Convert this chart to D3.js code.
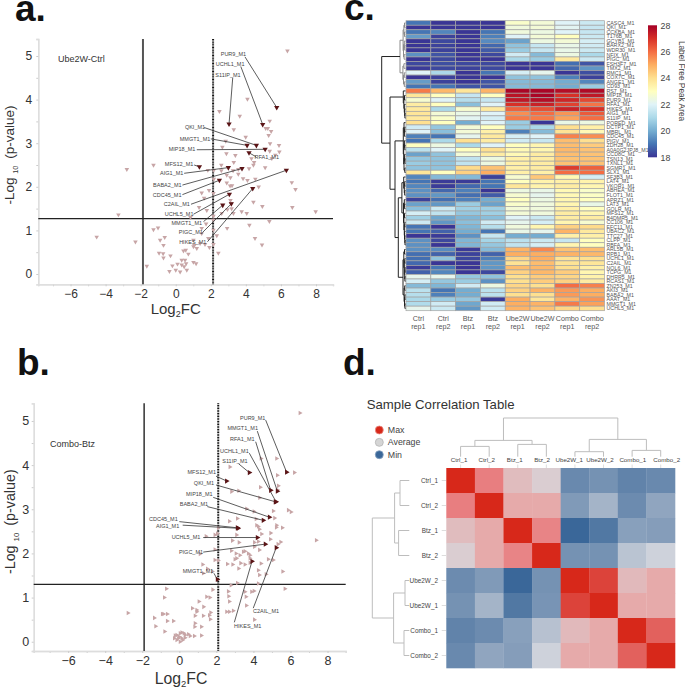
<!DOCTYPE html>
<html>
<head>
<meta charset="utf-8">
<script src="https://cdn.jsdelivr.net/npm/d3@7"></script>
<style>
    html, body { margin: 0; padding: 0; background: #fff; }
    svg { display: block; font-family: "Liberation Sans", Arial, sans-serif; }
</style>
</head>
<body>
<svg width="685" height="689"></svg>
<script>

// volcano a: Ube2W-Ctrl, [log2fc, -log10 p]
const a_points = [
    [6.37,5.12],[4.09,4.01],[2.49,3.73],[3.65,3.62],[5.36,3.51],[3.31,3.31],[5.13,3.34],[5.25,3.34],[5.44,3.27],[5.30,3.18],
    [3.99,3.14],[2.85,3.05],[5.38,2.99],[5.89,2.95],[2.66,2.91],[5.91,2.80],[5.36,2.82],[2.89,2.76],[3.40,2.72],[4.32,2.65],
    [5.68,2.73],[5.48,2.65],[4.47,2.56],[3.31,2.56],[4.43,2.50],[2.60,2.50],[-2.79,2.40],[-1.27,2.50],[2.60,2.37],[4.18,2.42],
    [5.10,2.44],[3.57,2.40],[3.27,2.37],[2.91,2.27],[3.57,2.29],[2.17,2.38],[1.83,2.38],[3.12,2.21],[2.17,2.18],[3.84,2.19],
    [4.09,2.15],[4.54,2.18],[2.91,2.09],[3.10,2.02],[1.48,1.86],[3.21,2.03],[1.62,1.74],[6.62,2.10],[6.83,1.94],[4.73,2.00],
    [2.15,1.85],[1.90,1.92],[3.12,1.69],[4.43,1.65],[4.94,1.55],[6.65,1.53],[7.98,1.43],[-3.27,1.36],[1.33,1.53],[1.77,1.46],
    [3.16,1.62],[3.19,1.50],[3.76,1.43],[4.05,1.39],[3.29,1.39],[2.95,1.48],[2.62,1.39],[2.15,1.33],[5.34,1.21],[4.20,1.12],
    [0.84,1.30],[-1.27,1.02],[-1.01,1.06],[2.93,1.05],[2.15,1.24],[1.48,1.05],[1.73,1.15],[2.34,0.88],[4.52,0.82],[4.92,0.67],
    [-4.51,0.85],[-2.30,0.74],[-0.63,0.84],[-0.89,0.78],[-0.70,0.66],[-0.95,0.48],[-0.72,0.47],[-0.70,0.37],[-0.30,0.42],[2.43,0.48],
    [2.15,0.68],[1.67,0.68],[1.01,0.78],[1.39,0.70],[1.01,0.63],[0.44,0.53],[0.57,0.55],[0.72,0.46],[1.92,0.61],[0.34,0.32],
    [0.53,0.32],[-0.19,0.19],[0.10,0.23],[0.34,0.21],[0.59,0.24],[1.01,0.27],[1.16,0.24],[-1.65,0.18],[-0.36,0.06],[0,0.09],
    [0.25,0.05],[0.63,0.09],[0.48,0.17],[1.06,0.66],[1.20,0.59],[1.48,0.93],[1.86,0.82],[2.15,1.01]
];

// labelled proteins: name, x, y, label x, label y, leader start x, leader start y
const a_hits = [
    ["PUR9_M1",5.76,3.82,3.29,5.04,3.95,4.98],
    ["UCHL1_M1",4.96,3.43,3.10,4.82,3.71,4.76],
    ["S11IP_M1",3.04,3.44,2.98,4.57,3.25,4.50],
    ["QKI_M1",4.60,2.95,1.10,3.37,1.62,3.36],
    ["MMGT1_M1",4.07,2.95,1.10,3.10,2.00,3.10],
    ["MIP18_M1",5.10,2.86,0.36,2.86,1.20,2.85],
    ["RFA1_M1",4.18,2.78,5.19,2.68,4.58,2.69],
    ["MFS12_M1",1.35,2.46,0.19,2.51,1.05,2.50],
    ["AIG1_M1",3.00,2.44,-0.23,2.31,0.48,2.31],
    ["BABA2_M1",3.78,2.42,-0.48,2.04,0.38,2.04],
    ["CDC45_M1",2.49,2.15,-0.49,1.82,0.38,1.82],
    ["C2AIL_M1",6.31,2.38,0.06,1.60,0.87,1.60],
    ["UCHL5_M1",3.06,1.83,0.19,1.37,1.01,1.37],
    ["MMGT1_M1",2.68,1.58,0.63,1.17,1.58,1.20],
    ["PIGC_M1",3.17,1.61,0.86,0.96,1.52,0.95],
    ["HIKES_M1",4.39,1.96,0.97,0.73,1.81,0.74]
];

// volcano b: Combo-Btz
const b_points = [
    [6.51,5.18],[5.25,4.15],[6.21,3.83],[4.41,4.15],[2.73,3.96],[5.29,3.77],[3.20,3.42],[2.82,3.40],[4.37,3.50],[5.34,3.53],
    [5.29,3.44],[4.33,3.26],[3.63,3.01],[4.03,2.95],[5.07,2.96],[5.88,2.98],[6.03,2.94],[5.14,2.80],[4.14,2.78],[3.13,2.79],
    [2.70,2.73],[4.17,2.64],[4.26,2.61],[5.25,2.64],[5.23,2.59],[5.56,2.58],[4.32,2.55],[2.10,2.58],[3.09,2.42],[4.93,2.46],
    [4.91,2.32],[4.44,2.44],[5.47,2.26],[5.32,2.21],[7.39,2.30],[2.05,2.45],[1.44,2.39],[1.92,2.42],[4.26,2.27],[4.05,2.25],
    [4.05,2.15],[2.86,2.29],[3.22,2.25],[1.92,2.09],[4.32,2.08],[1.12,1.99],[2.81,2.06],[3.06,2.00],[3.27,1.96],[3.45,2.04],
    [3.54,2.05],[3.72,2.00],[3.81,1.96],[3.09,1.89],[3.81,1.89],[1.26,1.75],[1.92,1.85],[2.10,1.84],[2.59,1.76],[3.00,1.87],
    [2.88,1.75],[3.20,1.66],[3.31,1.78],[3.54,1.75],[3.81,1.79],[4.41,1.77],[5.07,1.85],[4.80,1.87],[5.58,1.59],[4.26,1.62],
    [4.32,1.51],[4.68,1.53],[1.29,1.55],[1.51,1.65],[1.78,1.59],[2.79,1.28],[3.13,1.33],[4.26,1.32],[1.80,1.18],[-0.70,1.20],
    [-0.81,1.00],[2.64,1.14],[2.66,1.03],[2.70,0.91],[3.54,1.13],[3.90,1.13],[4.03,1.15],[3.60,1.02],[5.70,1.20],[1.47,1.02],
    [1.65,1.00],[1.06,0.91],[1.31,0.79],[0.70,0.76],[0.94,0.68],[0.94,0.72],[1.69,0.66],[1.62,0.60],[1.67,0.51],[0.85,0.59],
    [0.85,0.42],[0.83,0.34],[1.19,0.34],[1.29,0.59],[3.62,0.82],[2.55,0.68],[2.70,0.68],[2.91,0.70],[-2.77,0.65],[-1.35,0.54],
    [-0.92,0.63],[-0.85,0.63],[-0.65,0.63],[-0.65,0.47],[-0.32,0.47],[-1.28,0.35],[-0.79,0.23],[1.19,0.14],[0.81,0.13],[4.05,0.50],
    [0.25,0.19],[0.31,0.15],[0.49,0.17],[0.58,0.13],[0.04,0.19],[-0.14,0.15],[-0.27,0.08],[-0.05,0.08],[0.13,0.08],[0.31,0.09],
    [-0.14,0.04],[0.04,0],[0.18,0.04],[-0.23,0.14],[0.13,0.21],[0,0.11]
];

const b_hits = [
    ["PUR9_M1",5.79,3.84,3.96,5.07,4.66,5.02],
    ["MMGT1_M1",5.29,3.41,3.42,4.83,4.21,4.77],
    ["RFA1_M1",4.93,3.43,3.40,4.58,4.12,4.53],
    ["UCHL1_M1",5.22,3.17,2.97,4.31,3.78,4.27],
    ["S11IP_M1",3.78,3.83,3.00,4.09,3.20,4.03],
    ["MFS12_M1",2.55,3.64,1.21,3.85,1.98,3.75],
    ["QKI_M1",5.18,3.17,1.33,3.60,1.98,3.55],
    ["MIP18_M1",4.86,2.82,1.08,3.35,1.83,3.27],
    ["BABA2_M1",4.53,2.75,0.79,3.12,1.51,3.06],
    ["CDC45_M1",3.13,2.58,-0.86,2.78,0,2.72],
    ["AIG1_M1",3.17,2.57,-0.63,2.62,0.18,2.64],
    ["UCHL5_M1",4.21,2.36,0.36,2.36,1.29,2.36],
    ["PIGC_M1",4.64,2.21,0.63,2.03,1.29,2.03],
    ["C2AIL_M1",5.23,2.13,4.68,0.70,3.99,0.76],
    ["HIKES_M1",3.92,1.82,3.69,0.35,2.97,0.44],
    ["MMGT1_M1",2.05,1.41,1.01,1.59,1.87,1.55]
];

const x_major = [-6, -4, -2, 0, 2, 4, 6, 8];
const x_minor = [-7, -5, -3, -1, 1, 3, 5, 7];
const y_major = [0, 1, 2, 3, 4, 5];
const y_minor = [0.5, 1.5, 2.5, 3.5, 4.5];

// heatmap c
const heat_cols = [["Ctrl","rep1"],["Ctrl","rep2"],["Btz","rep1"],["Btz","rep2"],["Ube2W","rep1"],["Ube2W","rep2"],["Combo","rep1"],["Combo","rep2"]];

const heat_rows = [
    "CASC4_M1","QKI_M1","CCKBA_M1","T176B_M1","GCYB1_M1","BARX2_M1","WDR30_M1","NFIX_M1","PIGC_M1","FSH3F7_M1","TMX2_M1","RMC1_M1","COX7C_M1","ANGE1_M1","CD93_M1","RS7_M1",
    "MIP18_M1","PUR9_M1","RFA1_M1","HIKES_M1","AIG1_M1","S11IP_M1","PORED_M1","DCTP1_M1","MBRL_M1","CDC45_M1","PIGV_M1","ZDH28_M1","A0A0G2JPJ8_M1","CCD8C_M1","TSN13_M1","TXNL1_M1",
    "SGMR1_M1","SLX1_M1","SF3B3_M1","LAT4_M1","VKOR1_M1","ABHEA_M1","FLOT1_M1","APRZ1_M1","LAT3_M1","GOLR_M1","MFS12_M1","B4DMR5_M1","CC106_M1","EFC11_M1","UBAC2_M1","TTC27_M1",
    "CLPP_M1","RBFA_M1","ARL5B_M1","RPB1_M1","UCHL1_M1","C2AIL_M1","NOL6_M1","TCPG_M1","DHRR5_M1","RCAS1_M1","ZN253_M1","AKI3_M1","BABA2_M1","AAAT_M1","MMGT1_M1","UCHL5_M1"
];

const heat_values = [
    [19,18,18,18,22.8,22.6,22,21.6],
    [18,18,18,18,22.5,22.6,22.1,21.5],
    [19,19.3,18,19,22.5,22.4,22,21.5],
    [19.7,18.2,18,19.2,22,22.6,23,21.6],
    [18,18.3,18,19.4,19.8,22.4,22.6,21.8],
    [18,18.2,18,18.8,20.5,21.5,22.3,21.7],
    [18,18.2,18,18.6,20.7,21.5,22.3,21.6],
    [19.5,18.5,18,18.3,21.7,20.3,22.4,21],
    [18,18.3,18,18,21,20.7,23.7,21.6],
    [18.3,18.4,18.3,18.3,18,18,18.9,18.5],
    [18.1,18.3,18.2,18.3,18,18,18.8,19.6],
    [22,21,18,19,21.8,22.2,18,18.4],
    [18,18.2,18,18,20.5,20.5,19.2,18.2],
    [19.7,18.2,18,18.5,20.3,20.3,20,19.3],
    [19,19,18.5,18.5,20.3,20.3,20,20.7],
    [25.8,24.8,23.8,24.9,27.9,27.9,27.7,27.8],
    [23.8,23,21.5,23,27.6,27.9,27,27.5],
    [22.7,22,21.2,21.5,27.5,27.7,27.2,26.6],
    [23.6,23,20.4,22,27,27.3,26.7,25.9],
    [23.7,21,22.7,23.7,26.2,26.5,27.3,27],
    [23.8,22.6,22.3,22,25.5,26,25.4,26.3],
    [23.7,22.8,22.1,21.8,25.8,25.8,25.2,26],
    [24,23,20,22,20.7,18,22.3,22.4],
    [21.7,20.6,22.6,23,20.7,21,24,23.5],
    [22,20.4,22.6,23.5,19.2,20.3,23.9,23.2],
    [19.2,19,22.2,23.7,21.8,22,25.7,25.5],
    [19,21,24,23.6,21.7,21.5,24.7,24],
    [23,22.4,21,22,23,23.3,24.7,24.4],
    [21.3,22,23,24,23.2,23.3,24.8,24.6],
    [19.8,20.5,22.6,23.6,23.2,23.6,24.7,24.6],
    [20.6,20.5,21.4,22.4,23.5,23.6,24.6,24.6],
    [20.7,20.5,21.4,22.4,23.5,23.6,24.6,24.6],
    [20.5,20.5,24.1,24.6,23.5,23.6,26.8,26.2],
    [23.8,23,24.3,25,23.5,23.5,26,26],
    [19.3,20.3,20.3,18.2,22.7,24.5,23.2,21.8],
    [19,18.1,18.1,19,23,23.4,23.5,23.4],
    [19.3,18.1,18.8,19,23.8,23.4,23.6,23.3],
    [19.5,18.8,19.2,18,22.4,22.3,23.2,22.8],
    [19.5,19.6,18.9,18.6,22.7,22.2,23.2,22.9],
    [18.2,18.9,19.2,20,23,22.4,23.3,23],
    [19.8,19.6,20.7,19.8,22.8,22.5,23.3,22.3],
    [20.4,21.6,20.8,20.8,22.6,22.5,23.5,23],
    [21.8,21.4,20.6,20.8,22.6,22.5,23.6,23.3],
    [20.8,19.9,20.2,20.4,22,21.6,23.6,23.6],
    [21.6,19.6,20.4,21.7,22.2,21.8,23.3,22.7],
    [19,18,20.2,21.2,22.5,23.3,24.3,24.1],
    [19,18.7,20,19,22.3,22.2,24.9,23.7],
    [18,18.1,19.5,21.5,20,20,23.5,23.5],
    [19.5,18.3,20.2,20.9,21.3,21.6,21.5,23],
    [19.5,18,20.2,20.6,21.4,21.8,23.3,23],
    [19.5,19.4,18.1,20.3,24.9,25.6,24.6,24.7],
    [18.9,18.7,18.2,18.7,25,25,24.9,24.8],
    [18.9,20.5,18.3,19.2,24.2,25,23.9,24],
    [18.8,18,18,19.6,23.9,24.7,23.9,23.8],
    [18.1,19,18,19.6,24.7,24.8,24,23.5],
    [18.7,19.3,18,18.3,24.3,24.8,24.4,23.3],
    [22.2,22.2,20.6,20.5,24,24.4,24.2,23.4],
    [21.8,20.6,20.7,19.5,24,24.4,24.3,23.6],
    [20.3,20.2,21.7,22.4,24.2,24,26,25.7],
    [21.3,19,20,21.3,24.3,24.9,25.3,25],
    [21.2,19.2,20,21.3,24,24,25.3,25],
    [21,20.7,20.6,18.1,25,23.8,24.9,25.4],
    [21.1,21.7,19.9,21.7,25,24.9,25.8,25.2],
    [22.2,21.6,19.6,21.7,24.9,24.6,24.2,24]
];

const heat_ticks = [18, 20, 22, 24, 26, 28];
const heat_stops = [18, 19, 20, 21, 22, 23, 24, 25, 26, 27, 28];
const heat_palette = ["#3a3595","#4575b4","#74add1","#abd9e9","#e0f3f8","#ffffbf","#fee090","#fdae61","#f46d43","#d73027","#a50026"];

// dendrogram of the heatmap rows: [height, child, child], numbers are rows
const heat_tree_top = [5.5,
    [2.4, [1.6,[1,0,1],[1,2,3]], [2,[1.2,4,[0.8,5,6]],[1.4,7,8]]],
    [2.6, [1.6,9,10], [2,[1.2,11,12],[1.2,13,14]]]
];
const heat_tree_bottom = [15.5,
    [2.2,15,[1.6,[1,16,17],[1.2,18,[0.8,19,[0.6,20,21]]]]],
    [10.5,
        [2.2,[1.5,22,[1.1,[0.7,23,24],25]],[1.8,[1.1,26,[0.7,27,28]],[1.5,[0.9,29,[0.6,30,31]],[0.7,32,33]]]],
        [7.2,
            [3.6,[1.8,34,[1.2,[0.8,35,36],[0.8,37,38]]],[2,[1.2,39,[0.9,40,41]],[1.6,[1,42,43],[1.2,[0.7,44,45],[1,46,[0.7,47,[0.5,48,49]]]]]]],
            [2.5,[1.7,[1,50,51],[1.2,[0.7,52,53],[0.8,[0.5,54,55],[0.6,56,57]]]],[1.4,[0.8,58,59],[1,[0.6,60,61],[0.6,62,63]]]]
        ]
    ]
];
const heat_tree_height = 23.8;

// correlation table d
const corr_cols = ["Ctrl_1","Ctrl_2","Btz_1","Btz_2","Ube2W_1","Ube2W_2","Combo_1","Combo_2"];
const corr_rows = ["Ctrl_1","Ctrl_2","Btz_1","Btz_2","Ube2W_2","Ube2W_1","Combo_1","Combo_2"];
const corr_values = [
    [1,0.62,0.2,0.08,-0.7,-0.62,-0.75,-0.7],
    [0.62,1,0.33,0.33,-0.55,-0.32,-0.68,-0.45],
    [0.2,0.33,1,0.58,-1,-0.85,-0.5,-0.52],
    [0.08,0.33,0.58,1,-0.62,-0.62,-0.18,-0.05],
    [-0.68,-0.55,-1,-0.62,1,0.88,0.22,0.33],
    [-0.62,-0.32,-0.85,-0.6,0.88,1,0.33,0.33],
    [-0.75,-0.68,-0.5,-0.2,0.22,0.33,1,0.75],
    [-0.7,-0.45,-0.52,-0.05,0.33,0.33,0.75,1]
];
const corr_tree_top = [38.7,[16.3,[10.3,0,1],[12.3,2,3]],[17.3,[5,4,5],[6.3,6,7]]];
const corr_tree_left = [37,[14.7,[9.3,0,1],[10.7,2,3]],[15.7,[4.3,4,5],[5.3,6,7]]];
const corr_legend = [["Max","#d7281a","#e88a80"],["Average","#d5d5d5","#b5b5b5"],["Min","#3a6799","#86a2c0"]];

const svg = d3.select("svg");

const hit_symbol = d3.symbol().type(d3.symbolTriangle);

function plot_volcano(cfg) {

    const g = svg.append("g");

    const x = d3.scaleLinear().domain(cfg.x_domain).range([cfg.left, cfg.right]);
    const y = d3.scaleLinear().domain(cfg.y_domain).range([cfg.bottom, cfg.top]);

    // axes, minor ticks first so the labels stay on the even values
    [[x_minor, y_minor, d => ""], [x_major, y_major, cfg.tick_format]].forEach(([xt, yt, fmt]) => {

        const gx = g.append("g")
            .attr("transform", `translate(0, ${cfg.bottom})`)
            .call(d3.axisBottom(x).tickValues(xt).tickSize(2).tickPadding(cfg.pad_x).tickFormat(fmt));

        const gy = g.append("g")
            .attr("transform", `translate(${cfg.left}, 0)`)
            .call(d3.axisLeft(y).tickValues(yt).tickSize(2).tickPadding(cfg.pad_y).tickFormat(fmt));

        [gx, gy].forEach(a => {
            a.selectAll("path").attr("stroke", "#ddd").attr("stroke-width", 1.3);
            a.selectAll("line").attr("stroke", "#ccc");
            a.selectAll("text").attr("fill", "#333").style("font-size", cfg.tick_size + "px").style("font-family", "inherit");
        });

    });

    // cut offs
    g.append("line")
        .attr("x1", x(cfg.cut_left)).attr("x2", x(cfg.cut_left))
        .attr("y1", cfg.top).attr("y2", cfg.bottom)
        .attr("stroke", cfg.cut_color).attr("stroke-width", cfg.cut_width);

    g.append("line")
        .attr("x1", x(cfg.cut_right)).attr("x2", x(cfg.cut_right))
        .attr("y1", cfg.top).attr("y2", cfg.bottom)
        .attr("stroke", "#111").attr("stroke-width", 2).attr("stroke-dasharray", "1 0.6");

    g.append("line")
        .attr("x1", cfg.left).attr("x2", cfg.right)
        .attr("y1", y(cfg.cut_p)).attr("y2", y(cfg.cut_p))
        .attr("stroke", "#222").attr("stroke-width", 1.3);

    // background proteins
    g.append("g").selectAll("path")
        .data(cfg.points)
        .join("path")
        .attr("d", hit_symbol.size(9)())
        .attr("transform", d => `translate(${x(d[0])}, ${y(d[1])}) rotate(${cfg.rotate})`)
        .attr("fill", "#c7a5a6");

    // labelled ones
    g.append("g").selectAll("line")
        .data(cfg.hits)
        .join("line")
        .attr("x1", d => x(d[5])).attr("y1", d => y(d[6]))
        .attr("x2", d => x(d[1])).attr("y2", d => y(d[2]))
        .attr("stroke", "#333").attr("stroke-width", 0.8);

    g.append("g").selectAll("path")
        .data(cfg.hits)
        .join("path")
        .attr("d", hit_symbol.size(12)())
        .attr("transform", d => `translate(${x(d[1])}, ${y(d[2])}) rotate(${cfg.rotate})`)
        .attr("fill", "#5a1416");

    g.append("g").selectAll("text")
        .data(cfg.hits)
        .join("text")
        .attr("x", d => x(d[3])).attr("y", d => y(d[4]))
        .attr("dy", "0.35em")
        .attr("text-anchor", "middle")
        .attr("font-size", 5.5)
        .attr("fill", "#444")
        .text(d => d[0]);

    g.append("text")
        .attr("x", cfg.name_x).attr("y", cfg.name_y)
        .attr("font-size", 9)
        .attr("fill", "#333")
        .text(cfg.name);

    // axis titles
    const xt = g.append("text")
        .attr("x", cfg.xtitle_x).attr("y", cfg.xtitle_y)
        .attr("text-anchor", "middle")
        .attr("font-size", cfg.xtitle_size)
        .attr("fill", "#333");
    xt.append("tspan").text("Log");
    xt.append("tspan").attr("dy", 3).attr("font-size", cfg.xtitle_size * 0.6).text("2");
    xt.append("tspan").attr("dy", -3).text("FC");

    const yt = g.append("text")
        .attr("transform", `translate(${cfg.ytitle_x}, ${cfg.ytitle_y}) rotate(-90)`)
        .attr("text-anchor", "middle")
        .attr("font-size", cfg.ytitle_size)
        .attr("fill", "#333");
    yt.append("tspan").text("-Log ");
    yt.append("tspan").attr("dy", 4).attr("font-size", cfg.ytitle_size * 0.55).text("10");
    yt.append("tspan").attr("dy", -4).attr("dx", 3).text(" (p-value)");

}

// elbow dendrogram, pos(leaf) is the position along the leaves, size(h) across them
function draw_tree(parent, node, pos, size, horizontal, color) {

    if (typeof node === "number") return {p: pos(node), h: 0};

    const kids = node.slice(1).map(k => draw_tree(parent, k, pos, size, horizontal, color));
    const p = d3.mean(kids, k => k.p);

    const pts = d => horizontal
        ? d.map(c => [c[0], size(c[1])])
        : d.map(c => [size(c[1]), c[0]]);

    parent.append("path")
        .attr("d", d3.line()(pts([[kids[0].p, kids[0].h], [kids[0].p, node[0]], [kids[1].p, node[0]], [kids[1].p, kids[1].h]])))
        .attr("fill", "none")
        .attr("stroke", color)
        .attr("stroke-width", 1);

    return {p: p, h: node[0]};

}

function plot_heat() {

    const x = d3.scaleBand().domain(d3.range(heat_cols.length)).range([406, 604.5]);
    const y = d3.scaleBand().domain(d3.range(heat_rows.length)).range([20.7, 310.7]);
    const color = d3.scaleLinear().domain(heat_stops).range(heat_palette);

    const g = svg.append("g");

    const rows = g.append("g").selectAll("g")
        .data(heat_values)
        .join("g")
        .attr("transform", (d, i) => `translate(0, ${y(i)})`);

    rows.selectAll("rect")
        .data(d => d)
        .join("rect")
        .attr("x", (d, i) => x(i))
        .attr("width", x.bandwidth())
        .attr("height", y.bandwidth())
        .attr("fill", d => color(d))
        .attr("stroke", "#a3a3a3")
        .attr("stroke-width", 0.7);

    g.append("g").selectAll("text")
        .data(heat_rows)
        .join("text")
        .attr("x", 606.5)
        .attr("y", (d, i) => y(i) + y.bandwidth() / 2)
        .attr("dy", "0.35em")
        .attr("font-size", 5.3)
        .attr("fill", "#555")
        .text(d => d);

    const cols = g.append("g").selectAll("text")
        .data(heat_cols)
        .join("text")
        .attr("text-anchor", "middle")
        .attr("font-size", 7.2)
        .attr("fill", "#555");

    cols.append("tspan").attr("x", (d, i) => x(i) + x.bandwidth() / 2).attr("y", 320.5).text(d => d[0]);
    cols.append("tspan").attr("x", (d, i) => x(i) + x.bandwidth() / 2).attr("y", 328.5).text(d => d[1]);

    // row tree
    const size = d3.scaleLinear().domain([0, heat_tree_height]).range([405.5, 381.7]);
    const pos = i => y(i) + y.bandwidth() / 2;
    const tree = g.append("g");

    const top = draw_tree(tree, heat_tree_top, pos, size, false, "#8a8a8a");
    const bottom = draw_tree(tree, heat_tree_bottom, pos, size, false, "#222");

    tree.append("path")
        .attr("d", d3.line()([[size(top.h), top.p], [size(heat_tree_height), top.p], [size(heat_tree_height), bottom.p], [size(bottom.h), bottom.p]]))
        .attr("fill", "none").attr("stroke", "#222").attr("stroke-width", 1);

    // colour bar
    const bar = d3.scaleLinear().domain([18, 28]).range([157.3, 25.3]);

    const gradient = svg.append("defs").append("linearGradient")
        .attr("id", "heat-bar")
        .attr("x1", 0).attr("x2", 0).attr("y1", 1).attr("y2", 0);

    gradient.selectAll("stop")
        .data(heat_stops)
        .join("stop")
        .attr("offset", d => (d - 18) / 10)
        .attr("stop-color", d => color(d));

    g.append("rect")
        .attr("x", 648).attr("y", bar(28))
        .attr("width", 9).attr("height", bar(18) - bar(28))
        .attr("fill", "url(#heat-bar)");

    const axis = g.append("g")
        .attr("transform", "translate(657, 0)")
        .call(d3.axisRight(bar).tickValues(heat_ticks).tickSize(0).tickPadding(3.5));

    axis.select("path").remove();
    axis.selectAll("text").attr("fill", "#444").style("font-size", "8.8px").style("font-family", "inherit");

    g.append("text")
        .attr("transform", "translate(678.5, 81) rotate(90)")
        .attr("text-anchor", "middle")
        .attr("font-size", 8.3)
        .attr("fill", "#444")
        .text("Label Free Peak Area");

}

function plot_corr() {

    const x = d3.scaleBand().domain(d3.range(corr_cols.length)).range([446.3, 675]);
    const y = d3.scaleBand().domain(d3.range(corr_rows.length)).range([468, 668]);
    const color = d3.scaleLinear()
        .domain([-1, 0, 0.33, 0.62, 1])
        .range(["#3a6799", "#d6d8de", "#e6aaaa", "#e87e80", "#d7281a"]);

    const g = svg.append("g");

    g.append("text")
        .attr("x", 366.7).attr("y", 409)
        .attr("font-size", 13.2)
        .attr("fill", "#333")
        .text("Sample Correlation Table");

    const legend = g.append("g").selectAll("g")
        .data(corr_legend)
        .join("g")
        .attr("transform", (d, i) => `translate(379.3, ${430 + i * 12.35})`);

    legend.append("circle")
        .attr("r", 4)
        .attr("fill", d => d[1])
        .attr("stroke", d => d[2])
        .attr("stroke-width", 0.8);

    legend.append("text")
        .attr("x", 8.5)
        .attr("dy", "0.35em")
        .attr("font-size", 8.8)
        .attr("fill", "#444")
        .text(d => d[0]);

    corr_values.forEach((row, i) => {
        g.append("g").selectAll("rect")
            .data(row)
            .join("rect")
            .attr("x", (d, j) => x(j))
            .attr("y", y(i))
            .attr("width", x.bandwidth() + 0.3)
            .attr("height", y.bandwidth() + 0.3)
            .attr("fill", d => color(d));
    });

    // ticks between labels and table
    const cx = i => x(i) + x.bandwidth() / 2;
    const cy = i => y(i) + y.bandwidth() / 2;

    g.append("g").selectAll("line")
        .data(d3.range(corr_cols.length))
        .join("line")
        .attr("x1", cx).attr("x2", cx)
        .attr("y1", 464.5).attr("y2", 468)
        .attr("stroke", "#ddd");

    g.append("g").selectAll("line")
        .data(d3.range(corr_rows.length))
        .join("line")
        .attr("x1", 441.7).attr("x2", 446)
        .attr("y1", cy).attr("y2", cy)
        .attr("stroke", "#ddd");

    // the column labels sit a little off their columns in the picture
    const label_shift = [-1.5, -2.5, -3, -4.3, -5.7, -3.5, 0.7, 6];

    g.append("g").selectAll("text")
        .data(corr_cols)
        .join("text")
        .attr("x", (d, i) => cx(i) + label_shift[i])
        .attr("y", 460.2)
        .attr("dy", "0.35em")
        .attr("text-anchor", "middle")
        .attr("font-size", 6.2)
        .attr("fill", "#444")
        .text(d => d);

    g.append("g").selectAll("text")
        .data(corr_rows)
        .join("text")
        .attr("x", 438)
        .attr("y", (d, i) => cy(i))
        .attr("dy", "0.35em")
        .attr("text-anchor", "end")
        .attr("font-size", 6.4)
        .attr("fill", "#444")
        .text(d => d);

    // trees
    const top_size = d3.scaleLinear().domain([0, 38.7]).range([456.7, 418]);
    const left_size = d3.scaleLinear().domain([0, 37]).range([409.3, 372.3]);

    draw_tree(g.append("g"), corr_tree_top, cx, top_size, true, "#bdbdbd");
    draw_tree(g.append("g"), corr_tree_left, cy, left_size, false, "#bdbdbd");

}

function plot_letters() {

    const letters = [["a.", 15, 20.7], ["b.", 17, 375], ["c.", 344, 20], ["d.", 343, 375]];

    svg.append("g").selectAll("text")
        .data(letters)
        .join("text")
        .attr("x", d => d[1])
        .attr("y", d => d[2])
        .attr("font-size", 37)
        .attr("font-weight", "bold")
        .attr("fill", "#111")
        .text(d => d[0]);

}

plot_volcano({
    points: a_points, hits: a_hits, rotate: 180, name: "Ube2W-Ctrl",
    x_domain: [-7.84, 8.97], y_domain: [-0.236, 5.39],
    left: 38.3, right: 333, top: 39, bottom: 284.3,
    cut_left: -1.87, cut_right: 2.13, cut_p: 1.27, cut_color: "#555", cut_width: 2,
    pad_x: 3.2, pad_y: 4, tick_size: 12, tick_format: d3.format("d"),
    name_x: 58, name_y: 62,
    xtitle_x: 175.7, xtitle_y: 314, xtitle_size: 15,
    ytitle_x: 13.5, ytitle_y: 155, ytitle_size: 13.5
});

plot_volcano({
    points: b_points, hits: b_hits, rotate: 90, name: "Combo-Btz",
    x_domain: [-7.86, 8.98], y_domain: [-0.21, 5.40],
    left: 33.7, right: 345.7, top: 403.3, bottom: 651,
    cut_left: -1.9, cut_right: 2.1, cut_p: 1.3, cut_color: "#222", cut_width: 1.4,
    pad_x: 3.2, pad_y: 2.5, tick_size: 12.5, tick_format: d3.format("d"),
    name_x: 50, name_y: 446.7,
    xtitle_x: 181, xtitle_y: 684, xtitle_size: 15.8,
    ytitle_x: 15, ytitle_y: 521.7, ytitle_size: 14.3
});

plot_heat();
plot_corr();
plot_letters();

</script>
</body>
</html>
